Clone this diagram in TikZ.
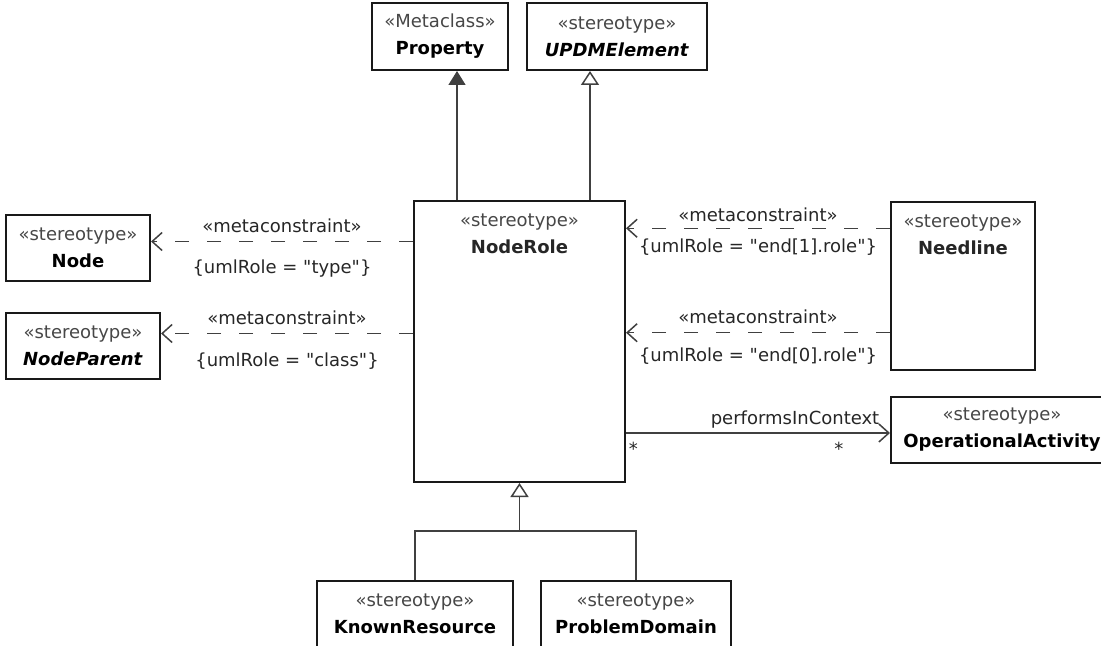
\documentclass[tikz,border=0pt]{standalone}
\usepackage{fontspec}
\setmainfont{DejaVu Sans}
\usepackage{xcolor}
\usetikzlibrary{arrows.meta, positioning}
\definecolor{linegray}{HTML}{404040}
\definecolor{stgray}{HTML}{474747}
\tikzstyle{cls} = [rectangle, draw=black!90, line width=1pt, fill=white, align=center, font=\fontsize{9pt}{13.5pt}\selectfont, inner sep=2pt]
\tikzstyle{lbl} = [font=\fontsize{9pt}{13.5pt}\selectfont, text=black!85, inner sep=1pt, align=center]
\tikzstyle{gen} = [draw=linegray, line width=0.75pt, -{Triangle[open, length=7pt, width=9pt]}]
\tikzstyle{meta} = [draw=linegray, line width=0.75pt, -{Triangle[length=7pt, width=8.5pt]}]
\tikzstyle{dep} = [draw=linegray, line width=0.75pt, dash pattern=on 7pt off 9pt, -{Straight Barb[length=5pt, width=9pt]}]
\tikzstyle{assoc} = [draw=linegray, line width=0.75pt, -{Straight Barb[length=5pt, width=9pt]}]
\tikzstyle{genline} = [draw=linegray, line width=0.75pt]
\newcommand{\stereo}[1]{{\color{stgray}«#1»}}
\newcommand{\role}[1]{\{umlRole = \textquotedbl#1\textquotedbl\}}

\begin{document}
\begin{tikzpicture}[x=0.5pt, y=-0.5pt]
    \useasboundingbox (0,0) rectangle (1101,646);

    % central stereotype
    \node (noderole) [cls, minimum width=105.5pt, minimum height=140.5pt] at (519.5,341.5) {};
    \node (noderole-txt) [lbl, anchor=north] at ([yshift=-5.5pt]noderole.north) {\stereo{stereotype}\\\textbf{NodeRole}};

    % parents
    \node (property) [cls, minimum width=68pt, minimum height=33.5pt, above=64.5pt of noderole, xshift=-39.75pt] {\stereo{Metaclass}\\\textbf{Property}};
    \node (updm) [cls, minimum width=90pt, minimum height=33.5pt, above=64.5pt of noderole, xshift=48.75pt] {\stereo{stereotype}\\\textbf{\textit{UPDMElement}}};

    % left side
    \node (node) [cls, minimum width=72pt, minimum height=33pt, left=131pt of noderole, yshift=46.75pt] {\stereo{stereotype}\\\textbf{Node}};
    \node (nodeparent) [cls, minimum width=77pt, minimum height=33pt, left=126pt of noderole, yshift=-2.25pt] {\stereo{stereotype}\\\textbf{\textit{NodeParent}}};

    % right side
    \node (needline) [cls, minimum width=72pt, minimum height=84pt, right=132pt of noderole, yshift=27.75pt] {};
    \node (needline-txt) [lbl, anchor=north] at ([yshift=-5.5pt]needline.north) {\stereo{stereotype}\\\textbf{Needline}};
    \node (opact) [cls, minimum width=111pt, minimum height=33pt, right=132pt of noderole, yshift=-44.25pt] {\stereo{stereotype}\\\textbf{OperationalActivity}};

    % children
    \node (known) [cls, minimum width=98pt, minimum height=33pt, below=48.5pt of noderole, xshift=-52.25pt] {\stereo{stereotype}\\\textbf{KnownResource}};
    \node (problem) [cls, minimum width=95pt, minimum height=33pt, below=48.5pt of noderole, xshift=58.25pt] {\stereo{stereotype}\\\textbf{ProblemDomain}};

    \coordinate (p1) at ([xshift=-31.25pt]noderole.north);
    \coordinate (u1) at ([xshift=35.25pt]noderole.north);
    \coordinate (n1) at ([yshift=3.25pt]node.east);
    \coordinate (np1) at ([yshift=6.25pt]nodeparent.east);
    \coordinate (nl1) at ([yshift=28.85pt]needline.west);
    \coordinate (nl2) at ([yshift=-23.35pt]needline.west);
    \coordinate (fork) at ([yshift=-24pt]noderole.south);

    \draw [meta] (p1) -- (p1 |- property.south);
    \draw [gen] (u1) -- (u1 |- updm.south);

    \draw [dep] (noderole.west |- n1) -- node[lbl, above=3pt] {«metaconstraint»} node[lbl, below=8pt] {\role{type}} (n1);
    \draw [dep] (noderole.west |- np1) -- node[lbl, above=3pt] {«metaconstraint»} node[lbl, below=8.5pt] {\role{class}} (np1);
    \draw [dep] (nl1) -- node[lbl, above=2pt] {«metaconstraint»} node[lbl, below=4pt] {\role{end[1].role}} (noderole.east |- nl1);
    \draw [dep] (nl2) -- node[lbl, above=3pt] {«metaconstraint»} node[lbl, below=6pt] {\role{end[0].role}} (noderole.east |- nl2);

    \draw [assoc] ([yshift=-1.5pt]noderole.east |- opact.west) -- node[lbl, pos=1, above left, xshift=-4pt, yshift=1pt] {performsInContext} node[lbl, pos=0, below right, yshift=-3pt] {*} node[lbl, pos=1, below left, xshift=-22pt, yshift=-3pt] {*} ([yshift=-1.5pt]opact.west);

    \draw [gen] (fork) -- (noderole.south);
    \draw [genline] (known.north) |- (fork) -| (problem.north);
\end{tikzpicture}
\end{document}
